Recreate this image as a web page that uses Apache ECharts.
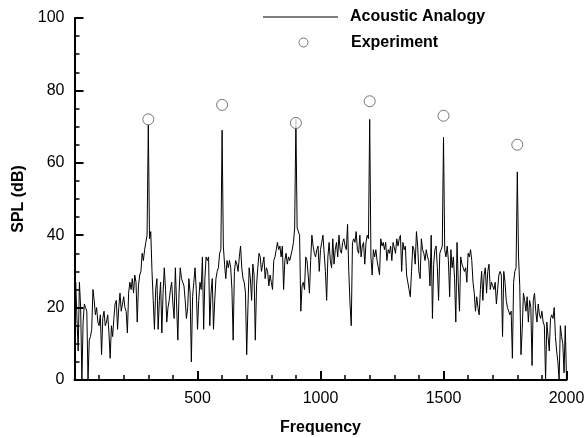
<!DOCTYPE html>
<html>
<head>
<meta charset="utf-8">
<script src="https://cdn.jsdelivr.net/npm/echarts@6/dist/echarts.min.js"></script>
<style>
html,body{margin:0;padding:0;background:#fff;}
#chart{width:584px;height:438px;}
</style>
</head>
<body>
<div id="chart"></div>
<script>
// Acoustic Analogy spectrum: SPL (dB) sampled every 5 Hz from 0 to 2000 Hz
const freqStep = 5;
const splAnalogy = [
  20,27,17,8,27,20,0,16,21,20,19,0,11,12,14,25,22,18,20,16,
  15,18,7,17,19,15,16,18,13,6,15,12,17,21,22,14,20,24,19,21,
  23,20,19,13,24,27,25,28,24,29,27,16,26,29,30,35,33,36,38,40,
  70.5,39,41,30,22,14,25,28,14,22,27,13,24,31,25,16,20,22,25,27,
  21,17,31,21,11,24,31,28,27,26,22,17,20,28,24,5,23,27,31,25,
  14,22,27,25,34,14,28,34,33,34,15,24,28,14,22,28,30,31,35,36,
  69,37,32,28,33,31,33,31,25,11,30,33,32,30,34,37,31,28,27,24,
  7,20,31,28,22,32,29,11,26,31,35,34,30,32,34,28,31,30,26,29,
  27,25,33,34,36,38,36,37,34,37,25,33,35,32,34,33,33,36,38,42,
  72,42,42,40,19,26,27,25,34,33,29,24,33,40,37,35,34,36,37,30,
  36,38,40,40,30,22,34,38,33,31,39,32,36,38,34,40,36,35,38,39,
  37,36,43,30,21,15,38,39,38,41,36,35,40,34,37,38,32,38,40,39,
  72,34,29,36,34,36,33,31,29,39,37,38,36,38,33,36,35,37,33,38,
  38,35,39,37,39,40,30,38,36,37,29,29,25,23,30,37,36,32,41,37,
  30,28,39,36,35,33,36,34,33,26,40,17,32,36,37,31,22,35,36,37,
  67,36,34,37,33,23,36,31,34,28,16,38,27,19,34,32,31,30,31,27,
  35,34,36,33,27,24,19,23,20,18,25,30,22,29,31,24,30,32,25,27,
  26,25,27,21,25,29,30,29,12,30,27,22,20,19,18,19,6,27,30,31,
  57.5,34,26,7,14,24,22,19,23,16,22,20,4,22,24,19,16,21,18,17,
  19,16,15,0,16,12,8,17,18,17,20,12,8,5,0,15,12,10,2,15,
  0
];
// Experiment
const expFreq = [300, 600, 900, 1200, 1500, 1800];
const expSpl = [72, 76, 71, 77, 73, 65];

const xTicks = [500, 1000, 1500, 2000];
const yTicks = [0, 20, 40, 60, 80, 100];

const lineData = splAnalogy.map((v, i) => [i * freqStep, v]);
const expData = expFreq.map((f, i) => [f, expSpl[i]]);

const FONT = 'Liberation Sans, Arial, sans-serif';
const chart = echarts.init(document.getElementById('chart'), null, {renderer: 'canvas'});
chart.setOption({
  animation: false,
  backgroundColor: '#fff',
  textStyle: {fontFamily: FONT},
  grid: {left: 74.5, right: 17.5, top: 18, bottom: 58, containLabel: false, outerBoundsMode: 'none'},
  legend: [
    {
      data: [{name: 'Acoustic Analogy', icon: 'rect'}],
      orient: 'vertical', left: 263, top: 9, padding: 0,
      itemWidth: 75, itemHeight: 1.2,
      textStyle: {fontFamily: FONT, fontWeight: 'bold', fontSize: 16, color: '#000', padding: [0, 0, 0, 7]},
      selectedMode: false
    },
    {
      data: [{name: 'Experiment', icon: 'circle'}],
      orient: 'vertical', left: 298.5, top: 34.5, padding: 0,
      itemWidth: 9, itemHeight: 9,
      itemStyle: {color: '#fff', borderColor: '#555', borderWidth: 1},
      textStyle: {fontFamily: FONT, fontWeight: 'bold', fontSize: 16, color: '#000', padding: [0, 0, 0, 38]},
      selectedMode: false
    }
  ],
  xAxis: {
    type: 'value', min: 0, max: 2000, interval: 500,
    name: 'Frequency', nameLocation: 'middle', nameGap: 40,
    nameTextStyle: {fontFamily: FONT, fontWeight: 'bold', fontSize: 16, color: '#000'},
    axisLine: {show: true, onZero: false, lineStyle: {color: '#000', width: 2}},
    axisTick: {show: true, inside: true, length: 9, lineStyle: {color: '#000', width: 2}},
    minorTick: {show: true, splitNumber: 5, length: 5, lineStyle: {color: '#000', width: 1.5}},
    splitLine: {show: false},
    axisLabel: {
      fontFamily: FONT, fontSize: 16, color: '#000', margin: 11,
      formatter: v => (xTicks.indexOf(v) >= 0 ? String(v) : '')
    }
  },
  yAxis: {
    type: 'value', min: 0, max: 100, interval: 20,
    name: 'SPL (dB)', nameLocation: 'middle', nameGap: 37,
    nameTextStyle: {fontFamily: FONT, fontWeight: 'bold', fontSize: 16, color: '#000'},
    axisLine: {show: true, onZero: false, lineStyle: {color: '#000', width: 2}},
    axisTick: {show: true, inside: true, length: 9, lineStyle: {color: '#000', width: 2}},
    minorTick: {show: true, splitNumber: 4, length: 5, lineStyle: {color: '#000', width: 1.5}},
    splitLine: {show: false},
    axisLabel: {
      fontFamily: FONT, fontSize: 16, color: '#000', margin: 10,
      formatter: v => (yTicks.indexOf(v) >= 0 ? String(v) : '')
    }
  },
  series: [
    {
      name: 'Acoustic Analogy', type: 'line', data: lineData,
      symbol: 'none', showSymbol: false, sampling: null,
      lineStyle: {color: '#000', width: 1}, itemStyle: {color: '#000'},
      clip: true, z: 2
    },
    {
      name: 'Experiment', type: 'scatter', data: expData,
      symbol: 'circle', symbolSize: 11,
      itemStyle: {color: '#fff', borderColor: '#555', borderWidth: 1},
      z: 3
    }
  ]
});
</script>
</body>
</html>
